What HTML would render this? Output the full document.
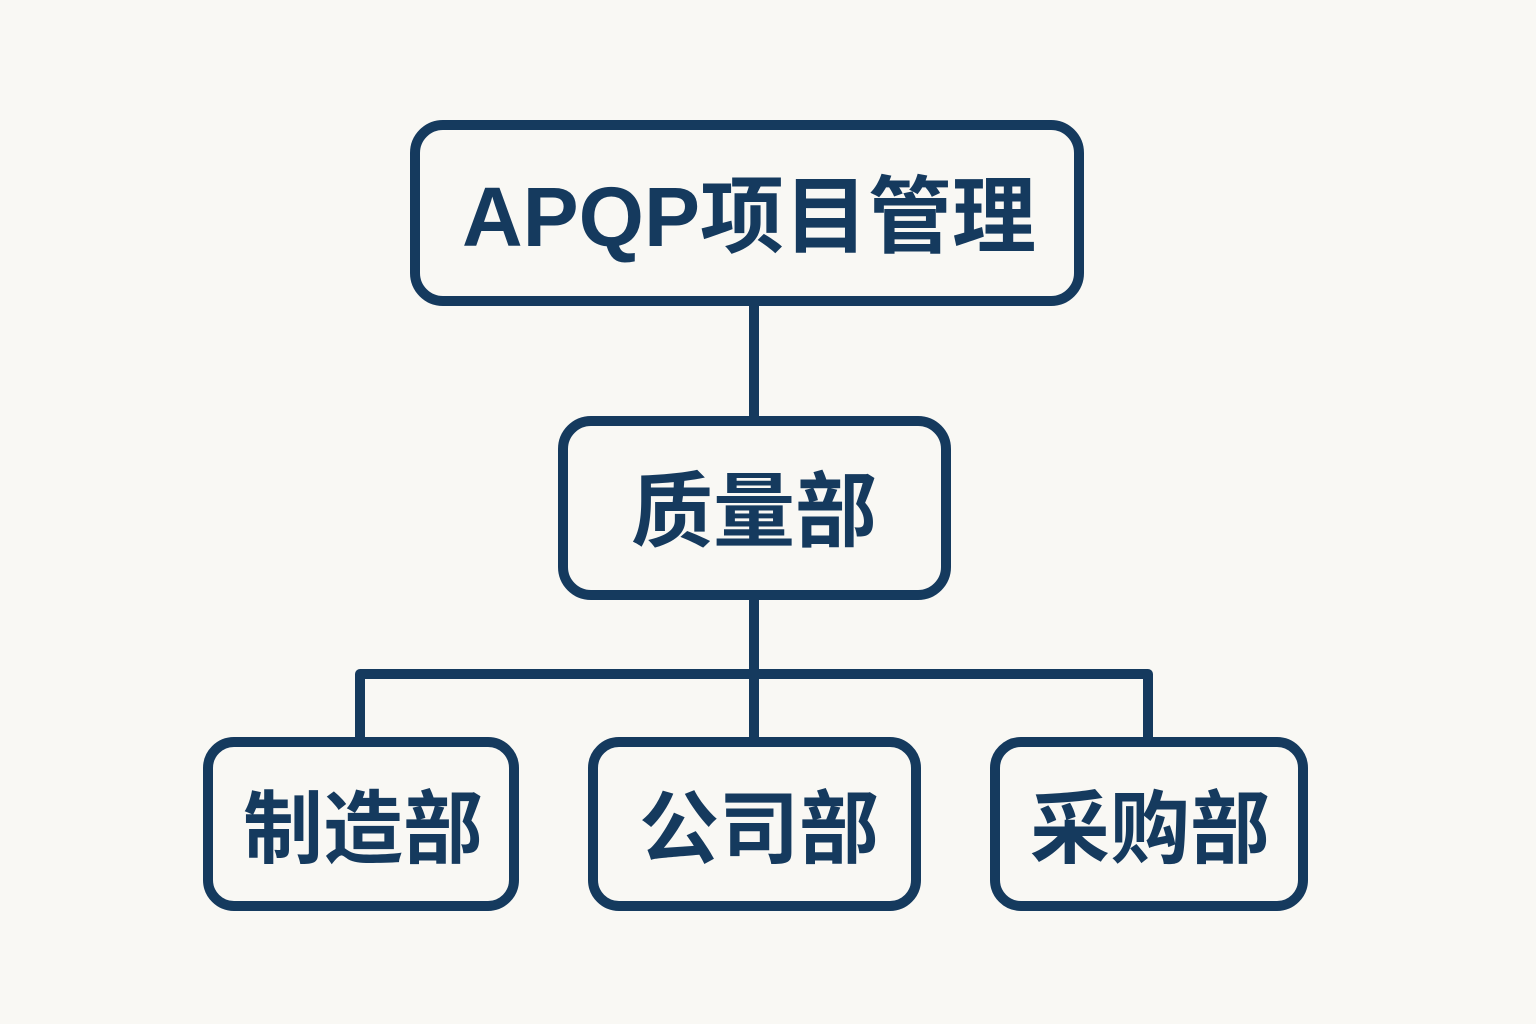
<!DOCTYPE html>
<html><head><meta charset="utf-8"><style>
html,body{margin:0;padding:0;background:#f9f8f4;}
svg{display:block}
text{font-family:"Liberation Sans","Noto Sans CJK SC",sans-serif;font-weight:bold;fill:#153a5e;}
</style></head><body>
<svg width="1536" height="1024" viewBox="0 0 1536 1024">
<rect width="1536" height="1024" fill="#f9f8f4"/>
<g fill="none" stroke="#153a5e" stroke-width="10" stroke-linejoin="round">
<rect x="415" y="125" width="664" height="176" rx="28"/>
<rect x="563" y="421" width="383" height="174" rx="28"/>
<rect x="208" y="742" width="306" height="164" rx="26"/>
<rect x="593" y="742" width="323" height="164" rx="26"/>
<rect x="995" y="742" width="308" height="164" rx="26"/>
<line x1="754" y1="301" x2="754" y2="421"/>
<line x1="754" y1="595" x2="754" y2="742"/>
<polyline points="360,742 360,674 1148,674 1148,742"/>
</g>
<text x="749" y="246" font-size="84" text-anchor="middle">APQP项目管理</text>
<text x="754" y="540" font-size="82" text-anchor="middle">质量部</text>
<text x="363" y="857" font-size="80" text-anchor="middle">制造部</text>
<text x="759" y="857" font-size="80" text-anchor="middle">公司部</text>
<text x="1150" y="857" font-size="80" text-anchor="middle">采购部</text>
</svg>
</body></html>
